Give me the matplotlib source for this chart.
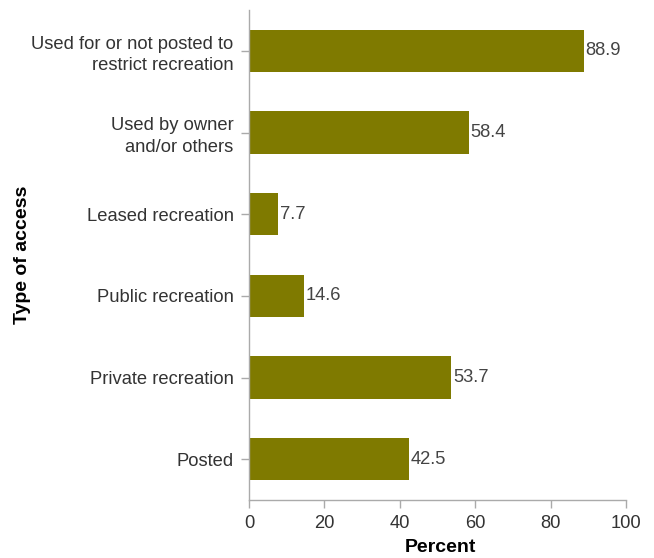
import matplotlib
matplotlib.use("Agg")
import matplotlib.pyplot as plt

plt.rcParams['font.family'] = ['Liberation Sans', 'DejaVu Sans']

categories = ["Used for or not posted to\nrestrict recreation",
              "Used by owner\nand/or others",
              "Leased recreation",
              "Public recreation",
              "Private recreation",
              "Posted"]
values = [88.9, 58.4, 7.7, 14.6, 53.7, 42.5]
xticks = [0, 20, 40, 60, 80, 100]

bar_color = "#7f7a00"
grey = "#aaaaaa"

fig = plt.figure(figsize=(6.54, 5.58), dpi=100)
ax = fig.add_axes([249/654, 1 - 500/558, 377/654, 490/558])

ypos = list(range(len(categories)))
ax.barh(ypos, values, height=0.52, color=bar_color)
for y, v in zip(ypos, values):
    ax.text(v + 0.4, y, f"{v}", va="center", ha="left", fontsize=13.2, color="#444444")

ax.set_ylim(len(categories) - 0.5, -0.5)
ax.set_xlim(0, 100)
ax.set_yticks(ypos)
ax.set_yticklabels(categories, linespacing=1.35)
ax.set_xticks(xticks)
ax.set_xticklabels([str(t) for t in xticks])

for s in ["top", "right"]:
    ax.spines[s].set_visible(False)
for s in ["left", "bottom"]:
    ax.spines[s].set_color(grey)
    ax.spines[s].set_linewidth(1)
ax.tick_params(axis="both", color=grey, length=6, width=1,
               labelsize=13.2, labelcolor="#333333", pad=5)

ax.set_xlabel("Percent", fontsize=14, fontweight="bold", va="center")
ax.set_ylabel("Type of access", fontsize=14, fontweight="bold", va="center")
ax.xaxis.set_label_coords(0.507, -0.096)
ax.yaxis.set_label_coords(-0.602, 0.5)

fig.savefig("out.png", dpi=100)
